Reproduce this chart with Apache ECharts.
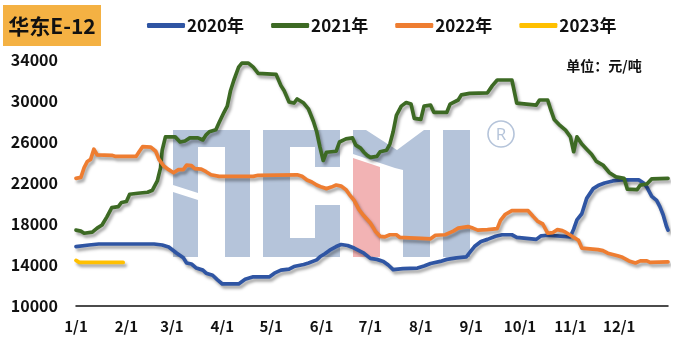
<!DOCTYPE html>
<html>
<head>
<meta charset="utf-8">
<script src="https://cdn.jsdelivr.net/npm/echarts@6/dist/echarts.min.js"></script>
<style>
html,body{margin:0;padding:0;background:#fff;}
#c{width:674px;height:355px;}
</style>
</head>
<body>
<div id="c"></div>
<script>
// ---- data ----
const seriesNames = ['2020年', '2021年', '2022年', '2023年'];
const monthDays = [31, 28, 31, 30, 31, 30, 31, 31, 30, 31, 30, 31];
const yTicks = [10000, 14000, 18000, 22000, 26000, 30000, 34000];

const dates2020 = ['1/1','1/9','1/15','2/18','2/23','2/27','3/4','3/8','3/10','3/13','3/16','3/20','3/22','3/26','3/29','4/1','4/11','4/15','4/20','4/30','5/3','5/7','5/12','5/15','5/21','5/24','5/29','5/31','6/3','6/6','6/10','6/13','6/17','6/21','6/24','6/27','7/1','7/5','7/9','7/12','7/15','7/21','7/30','8/3','8/7','8/13','8/17','8/23','8/29','9/1','9/3','9/7','9/11','9/16','9/20','9/26','9/29','10/11','10/14','10/18','10/28','11/1','11/3','11/5','11/8','11/11','11/15','11/18','11/22','11/27','12/2','12/13','12/16','12/18','12/21','12/24','12/26','12/28','12/30','12/31'];
const values2020 = [15800,15950,16050,16050,15950,15750,15150,14700,14200,14100,13700,13500,13200,13000,12550,12150,12150,12600,12850,12850,13200,13500,13600,13850,14050,14200,14500,14800,15100,15450,15800,16000,15900,15650,15400,15150,14650,14550,14350,14000,13550,13650,13700,13900,14150,14350,14550,14700,14800,15400,15800,16300,16500,16800,16950,16950,16700,16500,16850,16900,16800,16750,17500,18400,19000,20500,21450,21750,22000,22200,22300,22300,22000,21600,20700,20300,19700,18900,17800,17400];

const dates2021 = ['1/1','1/4','1/6','1/11','1/14','1/17','1/20','1/23','1/27','1/29','2/1','2/3','2/8','2/14','2/17','2/20','2/22','2/23','2/25','3/3','3/6','3/9','3/12','3/17','3/20','3/22','3/24','3/28','3/30','4/2','4/4','4/6','4/8','4/11','4/13','4/17','4/20','4/23','5/4','5/7','5/9','5/12','5/15','5/17','5/21','5/24','5/27','5/29','5/31','6/2','6/4','6/10','6/12','6/16','6/20','6/22','6/25','6/27','6/29','7/1','7/5','7/7','7/11','7/13','7/15','7/17','7/20','7/23','7/26','7/28','8/1','8/3','8/7','8/9','8/17','8/19','8/24','8/26','8/31','9/11','9/14','9/17','9/26','9/29','10/11','10/13','10/18','10/20','10/22','10/25','10/29','11/1','11/3','11/5','11/8','11/11','11/14','11/17','11/21','11/25','11/29','12/4','12/6','12/12','12/14','12/18','12/21','12/31'];
const values2021 = [17400,17300,17100,17200,17600,17900,18700,19600,19700,20100,20200,20900,21000,21100,21300,22200,23500,25200,26500,26500,26000,26100,26400,26400,26200,26700,27000,27200,27900,28900,29500,31000,32000,33300,33700,33700,33300,32700,32600,31500,31000,29900,29800,30200,29800,29200,28000,27000,25500,24200,25000,25100,26000,26300,26400,25700,25400,25000,24700,24500,24600,25050,25200,25800,27000,28600,29500,29850,29700,28300,28200,29500,29600,28900,28900,29700,30100,30600,30750,30800,31500,32050,32050,29800,29600,30100,30100,29100,28200,27700,27150,26500,25050,26500,25800,25300,24800,24100,23750,23000,22600,22450,21400,21350,21800,21900,22400,22450];

const dates2022 = ['1/1','1/4','1/6','1/8','1/10','1/12','1/14','1/23','1/25','2/7','2/9','2/11','2/16','2/19','2/21','2/24','2/27','3/2','3/5','3/8','3/10','3/13','3/15','3/19','3/22','3/25','3/30','4/20','4/23','5/17','5/20','5/23','5/26','5/29','6/1','6/4','6/7','6/10','6/13','6/16','6/18','6/21','6/24','6/27','7/1','7/4','7/7','7/10','7/13','7/17','7/19','7/25','8/1','8/7','8/10','8/16','8/21','8/24','8/30','9/2','9/5','9/11','9/17','9/19','9/22','9/26','10/6','10/9','10/12','10/15','10/18','10/21','10/24','10/27','10/29','11/2','11/6','11/8','11/18','11/21','11/24','11/30','12/3','12/7','12/11','12/14','12/18','12/20','12/31'];
const values2022 = [22450,22550,23500,24100,24300,25300,24750,24700,24600,24600,25100,25550,25500,25100,24300,23650,23300,23000,23300,23300,23750,23700,23400,23350,23100,22800,22650,22650,22750,22800,22650,22300,22100,21800,21600,21450,21600,21800,21700,21350,20900,20300,19400,18800,18100,17300,16800,16750,16950,16950,16700,16650,16600,16550,16900,16950,17300,17600,17750,17600,17400,17450,17550,18350,18950,19300,19300,18750,18250,18000,17100,17150,17450,17350,17200,16800,16400,15650,15500,15400,15150,14900,14750,14400,14200,14400,14400,14250,14300];

const dates2023 = ['1/1','1/3','1/30'];
const values2023 = [14450,14250,14250];

const colors = ['#2F55A3', '#3D6A24', '#EE7D31', '#FFC000'];

// ---- build ----
const categories = [];
monthDays.forEach((n, m) => { for (let d = 1; d <= n; d++) categories.push((m + 1) + '/' + d); });

function pairs(ds, vs) { return ds.map((d, i) => [d, vs[i]]); }
const allData = [pairs(dates2020, values2020), pairs(dates2021, values2021), pairs(dates2022, values2022), pairs(dates2023, values2023)];

const FONT = '"Noto Sans CJK SC", "Noto Sans", sans-serif';
const LOGO = '#B5C4DA';
const PINK = '#F2B3B4';

const chart = echarts.init(document.getElementById('c'), null, {renderer: 'canvas'});
chart.setOption({
  animation: false,
  backgroundColor: '#ffffff',
  grid: {left: 76, right: 6, top: 60, bottom: 49, containLabel: false},
  legend: {
    left: 142, top: 12,
    icon: 'roundRect', itemWidth: 38, itemHeight: 5, itemGap: 27,
    textStyle: {fontFamily: FONT, fontWeight: 'bold', fontSize: 17, color: '#111', padding: [0, 0, 0, -3]},
    data: seriesNames
  },
  xAxis: {
    type: 'category', data: categories, boundaryGap: false,
    axisLine: {show: true, lineStyle: {color: '#111', width: 1.5}},
    axisTick: {show: false},
    axisLabel: {
      interval: (idx, val) => val.endsWith('/1'),
      fontFamily: FONT, fontWeight: 'bold', fontSize: 15, color: '#111', margin: 13
    },
    splitLine: {show: false}
  },
  yAxis: {
    type: 'value', min: yTicks[0], max: yTicks[yTicks.length - 1], interval: 4000,
    axisLine: {show: false}, axisTick: {show: false}, splitLine: {show: false},
    axisLabel: {formatter: v => String(v), fontFamily: FONT, fontWeight: 'bold', fontSize: 16, color: '#111', margin: 18}
  },
  graphic: [
    {type: 'rect', z: -10, shape: {x: 3, y: 5, width: 98, height: 41}, style: {fill: '#F4B143'}},
    {type: 'text', z: -9, x: 52, y: 26, style: {text: '华东E-12', fontFamily: FONT, fontWeight: 'bold', fontSize: 21, fill: '#111', align: 'center', verticalAlign: 'middle'}},
    {type: 'text', z: -9, x: 604, y: 66, style: {text: '单位：元/吨', fontFamily: FONT, fontWeight: 'bold', fontSize: 14, fill: '#111', align: 'center', verticalAlign: 'middle'}},
    // watermark logo
    {type: 'polygon', z: -5, shape: {points: [[173,130],[250,130],[250,257],[225,257],[225,147],[198,147],[198,193],[173,185]]}, style: {fill: LOGO}},
    {type: 'polygon', z: -5, shape: {points: [[173,192],[198,200],[198,257],[173,257]]}, style: {fill: LOGO}},
    {type: 'rect', z: -5, shape: {x: 263, y: 130, width: 27, height: 127}, style: {fill: LOGO}},
    {type: 'rect', z: -5, shape: {x: 263, y: 130, width: 77, height: 17}, style: {fill: LOGO}},
    {type: 'rect', z: -5, shape: {x: 315, y: 130, width: 25, height: 37}, style: {fill: LOGO}},
    {type: 'rect', z: -5, shape: {x: 315, y: 205, width: 25, height: 52}, style: {fill: LOGO}},
    {type: 'rect', z: -5, shape: {x: 263, y: 238, width: 77, height: 19}, style: {fill: LOGO}},
    {type: 'polygon', z: -5, shape: {points: [[353,158],[380,167],[380,257],[353,257]]}, style: {fill: PINK}},
    {type: 'polygon', z: -5, shape: {points: [[353,130],[366,130],[397,150],[424,130],[430,130],[430,257],[403,257],[403,170],[395,168],[380,163],[353,154]]}, style: {fill: LOGO}},
    {type: 'rect', z: -5, shape: {x: 443, y: 130, width: 27, height: 127}, style: {fill: LOGO}},
    {type: 'circle', z: -5, shape: {cx: 501, cy: 134, r: 13}, style: {fill: 'none', stroke: LOGO, lineWidth: 1.6}},
    {type: 'text', z: -5, x: 501, y: 135, style: {text: 'R', fontFamily: '"Open Sans", sans-serif', fontSize: 17, fill: LOGO, align: 'center', verticalAlign: 'middle'}}
  ],
  series: seriesNames.map((name, i) => ({
    name, type: 'line', data: allData[i],
    showSymbol: false, symbol: 'none', smooth: false, z: 2 + i,
    color: colors[i],
    lineStyle: {width: 3.7, color: colors[i], cap: 'round', join: 'round',
      shadowColor: 'rgba(0,0,0,0.35)', shadowBlur: 3, shadowOffsetX: 2, shadowOffsetY: 3}
  }))
});
</script>
</body>
</html>
